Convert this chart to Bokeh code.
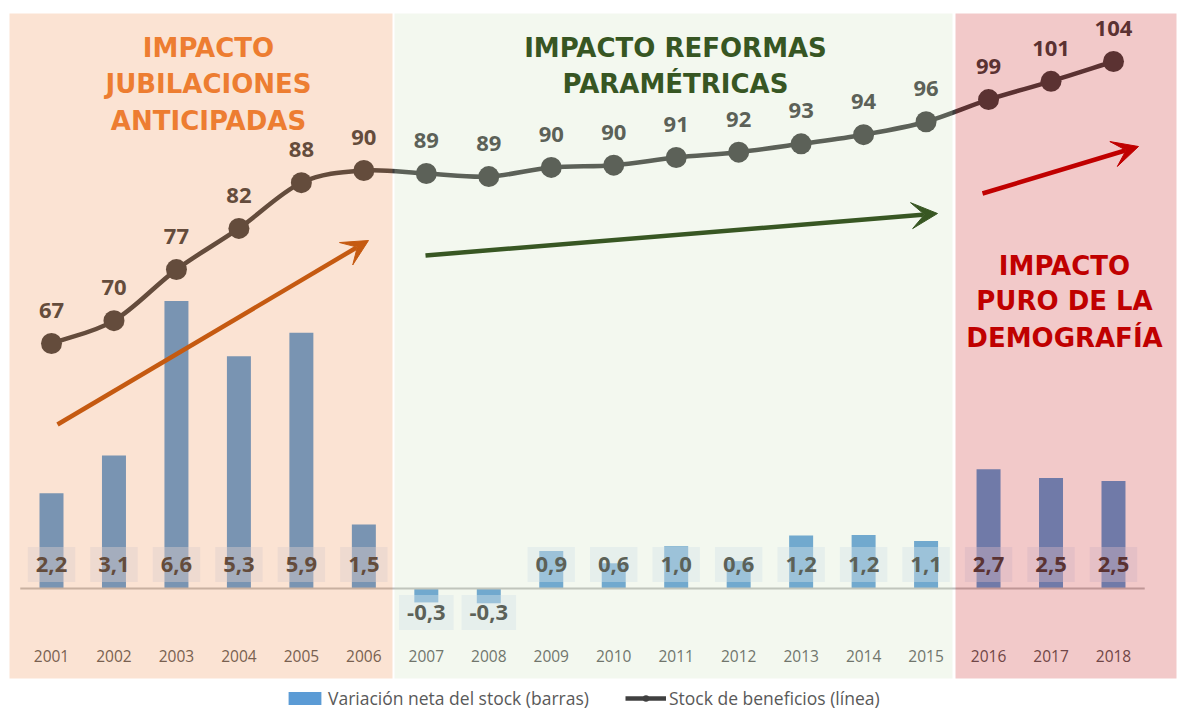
import numpy as np
from bokeh.plotting import figure
from bokeh.models import Range1d, Arrow, VeeHead, Legend, LegendItem, Label
from bokeh.core.properties import value
from bokeh.embed import file_html
from bokeh.resources import INLINE

# ---------------- data ----------------
years = ["2001", "2002", "2003", "2004", "2005", "2006", "2007", "2008", "2009",
         "2010", "2011", "2012", "2013", "2014", "2015", "2016", "2017", "2018"]
net_change = [2.19, 3.06, 6.61, 5.34, 5.88, 1.47, -0.32, -0.34, 0.86,
              0.58, 0.97, 0.63, 1.22, 1.23, 1.09, 2.74, 2.54, 2.47]
stock = [67.0, 70.0, 76.7, 82.1, 88.1, 89.7, 89.3, 88.9, 90.1,
         90.4, 91.4, 92.1, 93.2, 94.4, 96.1, 99.0, 101.4, 104.0]
bar_name = "Variación neta del stock (barras)"
line_name = "Stock de beneficios (línea)"
zone_titles = [["IMPACTO", "JUBILACIONES", "ANTICIPADAS"],
               ["IMPACTO REFORMAS", "PARAMÉTRICAS"],
               ["IMPACTO", "PURO DE LA", "DEMOGRAFÍA"]]

# ---------------- layout helpers (page pixels -> data) ----------------
W, H = 1178, 711
PAGE_L, PAGE_T = 0, 0
CX0, DX = 51.0, 62.47          # page x of first category, category step
BASE_Y, BAR_PX = 588.0, 43.5    # page y of zero, px per bar unit
L_REF_Y, L_REF_V, L_PX = 343.0, 67.0, 7.6216

def X(px):
    return (px - CX0) / DX

def YB(py):
    return (BASE_Y - py) / BAR_PX

x = np.arange(len(years), dtype=float)

p = figure(width=W, height=H, output_backend="svg", toolbar_location=None,
           x_range=Range1d(X(PAGE_L), X(PAGE_L + W)),
           y_range=Range1d(YB(PAGE_T + H), YB(PAGE_T)),
           x_axis_location=None, y_axis_location=None,
           min_border=0, min_border_left=0, min_border_right=0,
           min_border_top=0, min_border_bottom=0)
p.extra_y_ranges = {"stock": Range1d(L_REF_V - (PAGE_T + H - L_REF_Y) / L_PX,
                                     L_REF_V + (L_REF_Y - PAGE_T) / L_PX)}
p.grid.visible = False
p.outline_line_color = None
p.background_fill_color = "white"
p.border_fill_color = "white"

FONT_NAME = "Open Sans"
FONT = value(FONT_NAME)
TITLE_FONT = "DejaVu Sans"

# bars
bars = p.vbar(x=x, top=net_change, bottom=0, width=0.384,
              fill_color="#5b9bd5", line_color=None)

# zero line
p.segment(x0=[x[0] - 0.5], x1=[x[-1] + 0.5], y0=[0], y1=[0],
          line_color="#bfbfbf", line_width=2)

# bar value labels with boxes
bar_lbl = [f"{v:.1f}".replace(".", ",") for v in net_change]
bar_off = [-24 if v >= 0 else 24 for v in net_change]
p.text(x=x, y=0, text=bar_lbl, y_offset=bar_off, text_align="center",
       text_baseline="middle", text_font=FONT, text_font_style="bold",
       text_font_size="22px", text_color="#404040",
       background_fill_color="#dbe6f8", background_fill_alpha=0.43,
       padding=dict(left=8, right=8, top=10, bottom=10))

# smooth line (bezier segments through the data points)
P = np.column_stack([x, np.array(stock)])
Pe = np.vstack([2 * P[0] - P[1], P, 2 * P[-1] - P[-2]])
c0 = P[:-1] + (Pe[2:-1] - Pe[:-3]) / 6.0
c1 = P[1:] - (Pe[3:] - Pe[1:-2]) / 6.0
line_r = p.bezier(x0=P[:-1, 0], y0=P[:-1, 1], x1=P[1:, 0], y1=P[1:, 1],
                  cx0=c0[:, 0], cy0=c0[:, 1], cx1=c1[:, 0], cy1=c1[:, 1],
                  line_color="#404040", line_width=4.5, y_range_name="stock")
mark_r = p.scatter(x=x, y=stock, size=21, fill_color="#404040", line_color=None,
                   y_range_name="stock")
p.text(x=x, y=stock, text=[str(round(v)) for v in stock], y_offset=-33,
       text_align="center", text_baseline="middle", text_font=FONT,
       text_font_style="bold", text_font_size="22px", text_color="#404040",
       y_range_name="stock")

# year labels
p.text(x=x, y=0, text=years, y_offset=67, text_align="center",
       text_baseline="middle", text_font=FONT, text_font_size="15.5px",
       text_color="#595959")

# translucent zone overlays
p.quad(left=[X(9), X(394), X(955)], right=[X(392), X(952), X(1176)],
       bottom=YB(678), top=YB(13),
       fill_color=["#ed7d31", "#c5e0b4", "#c00000"], fill_alpha=0.21,
       line_color=None)

# arrows
for (x0, y0, x1, y1, col) in [(57, 424, 368, 240, "#c55a11"),
                              (425, 255, 937, 213, "#385723"),
                              (982, 193, 1138, 146, "#c00000")]:
    p.add_layout(Arrow(x_start=X(x0), y_start=YB(y0), x_end=X(x1), y_end=YB(y1),
                       line_color=col, line_width=4.5,
                       end=VeeHead(size=26, fill_color=col, line_color=col)))

# zone titles (page-pixel centres of each text line)
title_specs = [(208, [47, 83, 120], "#ed7d31"),
               (675, [47, 83], "#375623"),
               (1064, [265, 300, 337], "#c00000")]
for (cx, mids, col), lines in zip(title_specs, zone_titles):
    for my, t in zip(mids, lines):
        p.add_layout(Label(x=cx - PAGE_L, y=PAGE_T + H - my, x_units="screen",
                           y_units="screen", text=t, text_align="center",
                           text_baseline="middle", text_font=TITLE_FONT,
                           text_font_style="bold", text_font_size="26px",
                           text_color=col))

legend = Legend(items=[LegendItem(label=bar_name, renderers=[bars]),
                       LegendItem(label=line_name, renderers=[line_r, mark_r])],
                orientation="horizontal", location=(284, 1),
                border_line_color=None, background_fill_alpha=0,
                label_text_font=FONT_NAME, label_text_font_size="17.5px",
                label_text_color="#595959", glyph_width=41, glyph_height=16,
                label_standoff=3, spacing=36, padding=0, margin=0)
p.add_layout(legend)

open("out.html", "w").write(file_html(p, INLINE))
